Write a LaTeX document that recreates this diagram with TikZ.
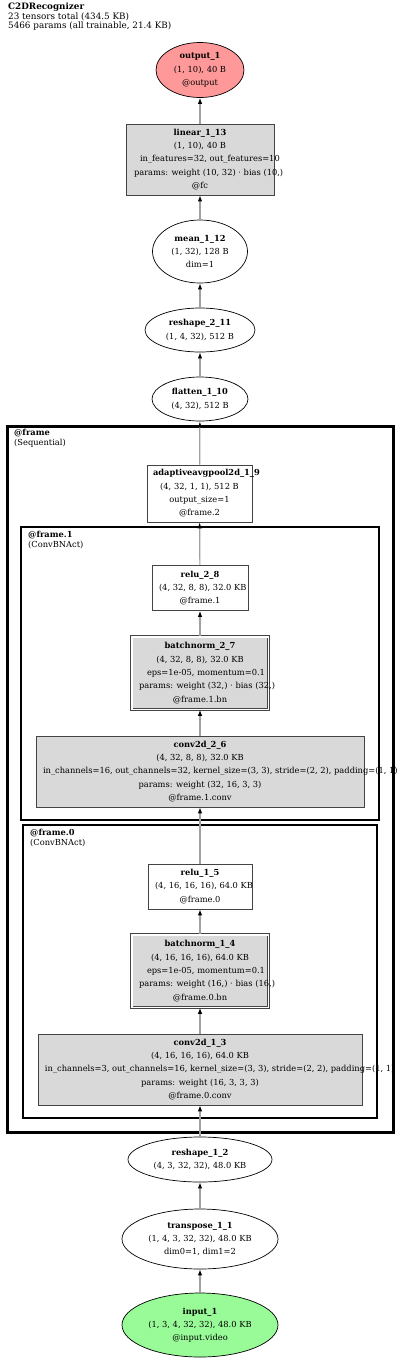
\documentclass[tikz,border=0pt]{standalone}
\usepackage{fontspec}
\setmainfont{DejaVu Serif}
\usetikzlibrary{shapes.geometric,arrows.meta}

\definecolor{opgray}{RGB}{217,217,217}
\definecolor{edgegray}{RGB}{160,160,160}
\definecolor{outpink}{RGB}{255,153,153}
\definecolor{ingreen}{RGB}{152,251,152}
\definecolor{linegray}{RGB}{68,68,68}

\tikzset{
  lbl/.style={font=\fontsize{8.3}{13.3}\selectfont, align=center, inner sep=0pt},
  tensor/.style={lbl, ellipse, draw=black, line width=0.7pt},
  opbox/.style={lbl, rectangle, draw=linegray, line width=0.7pt, fill=white},
  layer/.style={opbox, fill=opgray},
  normbox/.style={layer, double=white, double distance=1.8pt},
  flow/.style={draw=edgegray, line width=1.2pt, -{Latex[length=6pt,width=4.5pt,color=black]}},
  cluster/.style={draw=black, line width=2.5pt},
  clab/.style={font=\fontsize{8.3}{9.6}\selectfont, align=left, anchor=north west, inner sep=0pt},
}
% a line that starts at its left end and may run out of its box
\newcommand{\lft}[2]{\makebox[#1][l]{#2}}

\begin{document}
\begin{tikzpicture}[x=1pt, y=-1pt]
  \useasboundingbox (0,0) rectangle (400,1361);

  % header
  \node[clab, font=\fontsize{8.8}{9.3}\selectfont] (title) at (8,3)
    {\textbf{C2DRecognizer}\\23 tensors total (434.5 KB)\\5466 params (all trainable, 21.4 KB)};

  % module frames
  \draw[cluster, line width=3pt] (7,426) rectangle (393,1132);
  \node[clab] (framelab) at (14,429) {\textbf{@frame}\\(Sequential)};
  \draw[cluster] (21,527) rectangle (379,820);
  \node[clab] (frameonelab) at (28,531) {\textbf{@frame.1}\\(ConvBNAct)};
  \draw[cluster] (23,825) rectangle (377,1118);
  \node[clab] (framezerolab) at (30,829) {\textbf{@frame.0}\\(ConvBNAct)};

  % tensors and layers, top to bottom
  \node[tensor, fill=outpink, minimum width=88, minimum height=55] (output1) at (200,70)
    {\textbf{output\_1}\\(1, 10), 40 B\\@output};
  \node[layer, minimum width=148, minimum height=71] (linear113) at (200,159.5)
    {\textbf{linear\_1\_13}\\(1, 10), 40 B\\\lft{120pt}{in\_features=32, out\_features=10}\\\lft{132pt}{params: weight (10, 32) · bias (10,)}\\@fc};
  \node[tensor, minimum width=95, minimum height=63] (mean112) at (200,251.5)
    {\textbf{mean\_1\_12}\\(1, 32), 128 B\\dim=1};
  \node[tensor, minimum width=110, minimum height=44] (reshape211) at (200,330)
    {\textbf{reshape\_2\_11}\\(1, 4, 32), 512 B};
  \node[tensor, minimum width=96, minimum height=44] (flatten110) at (200,399)
    {\textbf{flatten\_1\_10}\\(4, 32), 512 B};
  \node[opbox, minimum width=105, minimum height=57] (pool19) at (199.5,493.5)
    {\lft{93pt}{\textbf{adaptiveavgpool2d\_1\_9}}\\(4, 32, 1, 1), 512 B\\output\_size=1\\@frame.2};

  \node[opbox, minimum width=96, minimum height=45] (relu28) at (200,588)
    {\textbf{relu\_2\_8}\\\lft{82pt}{(4, 32, 8, 8), 32.0 KB}\\@frame.1};
  \node[normbox, minimum width=136.8, minimum height=72.8] (bn27) at (200,673)
    {\textbf{batchnorm\_2\_7}\\(4, 32, 8, 8), 32.0 KB\\\lft{106pt}{eps=1e-05, momentum=0.1}\\\lft{122pt}{params: weight (32,) · bias (32,)}\\@frame.1.bn};
  \node[layer, minimum width=328, minimum height=71] (conv26) at (200,771.5)
    {\textbf{conv2d\_2\_6}\\(4, 32, 8, 8), 32.0 KB\\\lft{314pt}{in\_channels=16, out\_channels=32, kernel\_size=(3, 3), stride=(2, 2), padding=(1, 1)}\\params: weight (32, 16, 3, 3)\\@frame.1.conv};

  \node[opbox, minimum width=104, minimum height=45] (relu15) at (200,886.5)
    {\textbf{relu\_1\_5}\\\lft{90pt}{(4, 16, 16, 16), 64.0 KB}\\@frame.0};
  \node[normbox, minimum width=136.8, minimum height=72.8] (bn14) at (200,971)
    {\textbf{batchnorm\_1\_4}\\(4, 16, 16, 16), 64.0 KB\\\lft{106pt}{eps=1e-05, momentum=0.1}\\\lft{122pt}{params: weight (16,) · bias (16,)}\\@frame.0.bn};
  \node[layer, minimum width=324, minimum height=71] (conv13) at (200,1069.5)
    {\textbf{conv2d\_1\_3}\\(4, 16, 16, 16), 64.0 KB\\\lft{310pt}{in\_channels=3, out\_channels=16, kernel\_size=(3, 3), stride=(2, 2), padding=(1, 1)}\\params: weight (16, 3, 3, 3)\\@frame.0.conv};

  \node[tensor, minimum width=144, minimum height=45] (reshape12) at (200,1159.5)
    {\textbf{reshape\_1\_2}\\(4, 3, 32, 32), 48.0 KB};
  \node[tensor, minimum width=156, minimum height=60] (transpose11) at (200,1239)
    {\textbf{transpose\_1\_1}\\(1, 4, 3, 32, 32), 48.0 KB\\dim0=1, dim1=2};
  \node[tensor, fill=ingreen, minimum width=156, minimum height=64] (input1) at (200,1325)
    {\textbf{input\_1}\\(1, 3, 4, 32, 32), 48.0 KB\\@input.video};

  % data flow, bottom to top
  \foreach \src/\dst in {input1/transpose11, transpose11/reshape12, reshape12/conv13,
      conv13/bn14, bn14/relu15, relu15/conv26, conv26/bn27, bn27/relu28, relu28/pool19,
      pool19/flatten110, flatten110/reshape211, reshape211/mean112, mean112/linear113,
      linear113/output1}
    \draw[flow] (\src) -- (\dst);

\end{tikzpicture}
\end{document}
